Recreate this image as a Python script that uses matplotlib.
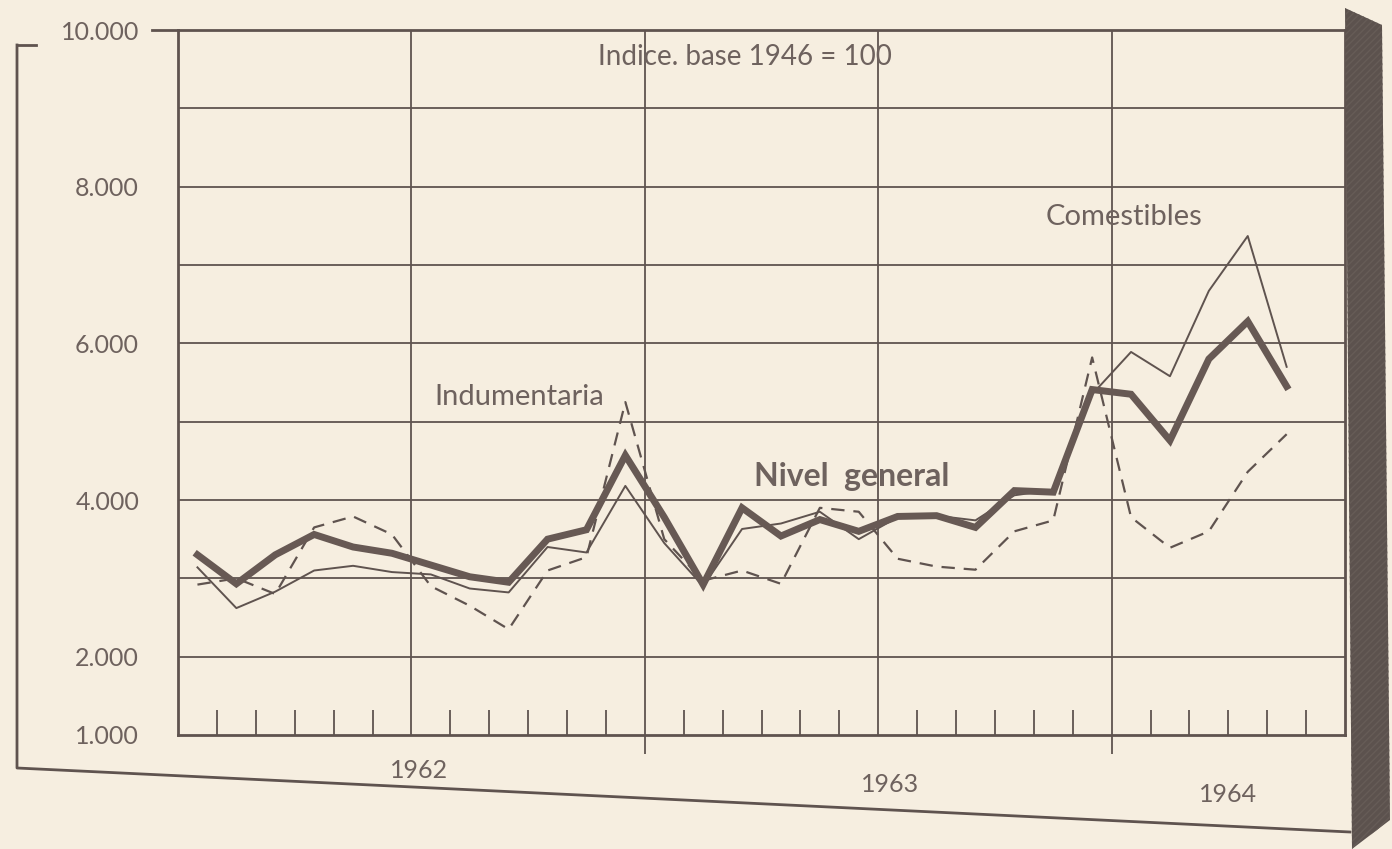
"""Precios mayoristas 1962-1964: indice base 1946 = 100 (recreacion)."""

import matplotlib
matplotlib.use("Agg")
import matplotlib.pyplot as plt
from matplotlib.patches import Polygon
from matplotlib.lines import Line2D

# monthly values, Jan 1962 .. May 1964
NIVEL_GENERAL = [3300, 2930, 3300, 3560, 3400, 3320, 3170, 3020, 2950, 3500,
                 3620, 4570, 3780, 2920, 3900, 3540, 3750, 3600, 3790, 3800,
                 3650, 4120, 4100, 5410, 5350, 4760, 5800, 6280, 5450]
COMESTIBLES = [3140, 2620, 2830, 3100, 3160, 3080, 3050, 2870, 2820, 3400,
               3330, 4180, 3450, 2900, 3630, 3700, 3850, 3500, 3780, 3800,
               3740, 4060, 4130, 5350, 5890, 5580, 6670, 7370, 5700]
INDUMENTARIA = [2920, 3000, 2800, 3650, 3790, 3560, 2900, 2650, 2350, 3100,
                3270, 5250, 3500, 2970, 3100, 2930, 3900, 3850, 3250, 3150,
                3110, 3600, 3740, 5820, 3780, 3390, 3600, 4360, 4840]
YEARS = ["1962", "1963", "1964"]
Y_LABELS = {10000: "10.000", 8000: "8.000", 6000: "6.000",
            4000: "4.000", 2000: "2.000", 1000: "1.000"}

BG = "#f6eee0"
INK = "#5f534f"
TXT = "#6e625e"
FONT = "Lato"

W, H = 1392, 849
fig = plt.figure(figsize=(W / 100, H / 100), dpi=100, facecolor=BG)


def fx(px):
    return px / W


def fy(py):
    return 1 - py / H


ax = fig.add_axes([fx(178), fy(735), fx(1345) - fx(178), fy(30) - fy(735)])
ax.set_facecolor(BG)
ax.set_xlim(0, 30)
ax.set_ylim(1000, 10000)

# grid
for v in range(2000, 10000, 1000):
    ax.axhline(v, color=INK, lw=1.3, zorder=1)
for m in (6, 12, 18, 24):
    ax.axvline(m, color=INK, lw=1.3, zorder=1)

x = [i + 0.5 for i in range(len(NIVEL_GENERAL))]
ax.plot(x, INDUMENTARIA, color=INK, lw=1.6, dashes=(6, 4), zorder=3)
ax.plot(x, COMESTIBLES, color=INK, lw=1.4, zorder=3)
ax.plot(x, NIVEL_GENERAL, color="#675954", lw=5, solid_joinstyle="miter",
        zorder=4)

for s in ax.spines.values():
    s.set_color(INK)
    s.set_linewidth(2)

# ticks: months inward, year boundaries outward
ax.set_xticks([12, 24])
ax.set_xticks([m for m in range(1, 30) if m % 6], minor=True)
ax.tick_params(axis="x", which="major", direction="out", length=14,
               width=1.3, color=INK, labelbottom=False)
ax.tick_params(axis="x", which="minor", direction="in", length=18,
               width=1.3, color=INK)
ax.set_yticks(list(Y_LABELS))
ax.set_yticklabels(list(Y_LABELS.values()))
ax.tick_params(axis="y", length=0, pad=28, labelsize=18, labelcolor=TXT)
for t in ax.get_yticklabels():
    t.set_family(FONT)

for year, xm, dy in zip(YEARS, (6.2, 18.3, 27.0), (-0.05, -0.07, -0.085)):
    ax.text(xm, dy, year, transform=ax.get_xaxis_transform(),
            ha="center", va="center", fontsize=18, color=TXT, family=FONT)

ax.text(10.8, 9660, "Indice. base 1946 = 100", fontsize=20, color=TXT,
        family=FONT, va="center", ha="left")
ax.text(6.6, 5150, "Indumentaria", fontsize=21, color=TXT, family=FONT,
        va="bottom", ha="left")
ax.text(14.8, 4120, "Nivel  general", fontsize=23, color=TXT, family=FONT,
        fontweight="bold", va="bottom", ha="left")
ax.text(22.3, 7450, "Comestibles", fontsize=21, color=TXT, family=FONT,
        va="bottom", ha="left")

# outer frame: bracket on the left and the (slanted) bottom rule
fig.add_artist(Line2D([fx(17), fx(17), fx(1350)], [fy(45), fy(768), fy(832)],
                      color=INK, lw=2))
fig.add_artist(Line2D([fx(17), fx(36)], [fy(45), fy(45)], color=INK, lw=2))
fig.add_artist(Line2D([fx(152), fx(178)], [fy(30), fy(30)], color=INK, lw=2))

# dark edge of the board on the right
edge = Polygon([(fx(1345), fy(8)), (fx(1382), fy(25)), (fx(1390), fy(820)),
                (fx(1352), fy(849))], closed=True, facecolor="#5c524e",
               edgecolor="#665c57", hatch="/////", lw=0,
               transform=fig.transFigure)
fig.add_artist(edge)

fig.savefig("out.png", dpi=100, facecolor=BG)
